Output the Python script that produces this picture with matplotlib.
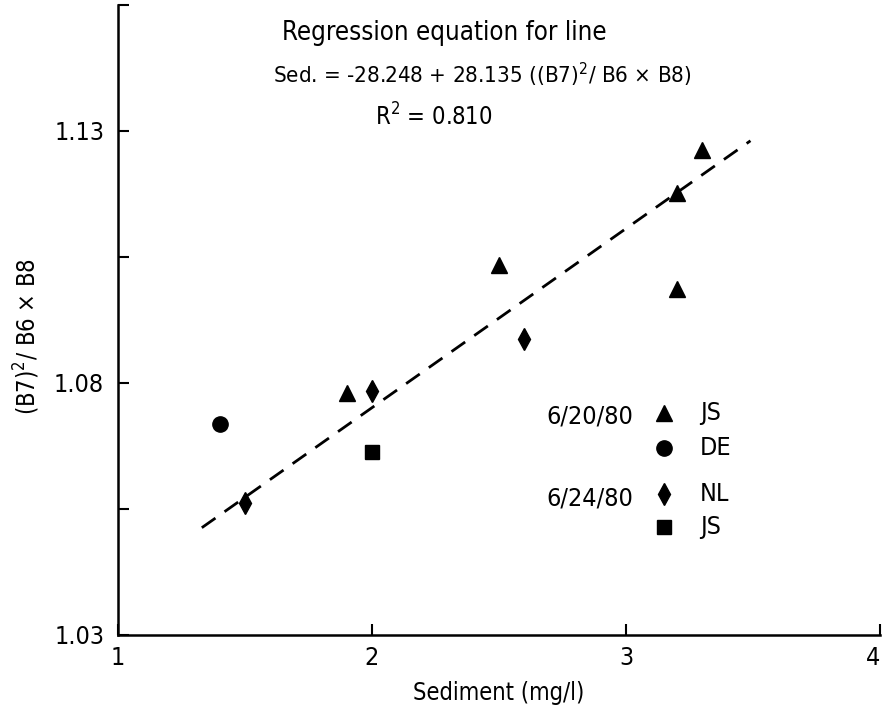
import matplotlib
matplotlib.use("Agg")
import matplotlib.pyplot as plt
import numpy as np

plt.rcParams['font.family'] = ['DejaVu Sans']
plt.rcParams['font.stretch'] = 'condensed'
plt.rcParams['mathtext.fontset'] = 'custom'
plt.rcParams['mathtext.rm'] = 'DejaVu Sans:stretch=condensed'

# Data
js0620_x = [1.9, 2.5, 3.2, 3.3, 3.2]
js0620_y = [1.078, 1.1035, 1.1176, 1.1263, 1.0987]
de0620_x = [1.4]
de0620_y = [1.0718]
nl0624_x = [1.5, 2.0, 2.6]
nl0624_y = [1.0561, 1.0784, 1.0887]
js0624_x = [2.0]
js0624_y = [1.0663]

intercept = -28.248
slope = 28.135
line_x = [1.33, 3.49]

xticks = [1, 2, 3, 4]
xticklabels = ['1', '2', '3', '4']
yticks = [1.03, 1.055, 1.08, 1.105, 1.13, 1.155]
yticklabels = ['1.03', '', '1.08', '', '1.13', '']

fig = plt.figure(figsize=(8.87, 7.11), dpi=100)
ax = fig.add_axes([118/887, (711-635)/711, 762/887, 630/711])

ax.plot(js0620_x, js0620_y, '^', color='black', ms=12, ls='none')
ax.plot(de0620_x, de0620_y, 'o', color='black', ms=11, ls='none')
ax.plot(nl0624_x, nl0624_y, 'd', color='black', ms=11, ls='none')
ax.plot(js0624_x, js0624_y, 's', color='black', ms=10, ls='none')

lx = np.array(line_x)
ly = (lx - intercept) / slope
ax.plot(lx, ly, color='black', lw=2, dashes=(6, 4))

ax.set_xlim(1, 4)
ax.set_ylim(1.03, 1.155)
ax.set_xticks(xticks)
ax.set_xticklabels(xticklabels)
ax.set_yticks(yticks)
ax.set_yticklabels(yticklabels)
ax.tick_params(direction='in', length=8, width=1.5, labelsize=18, colors='black')
ax.tick_params(axis='x', pad=8)
ax.tick_params(axis='y', pad=10)
xl = ax.get_xticklabels()
xl[-1].set_horizontalalignment('right')
for s in ['top', 'right']:
    ax.spines[s].set_visible(False)
for s in ['left', 'bottom']:
    ax.spines[s].set_linewidth(1.8)

ax.set_xlabel('Sediment (mg/l)', fontsize=17, labelpad=8)
ax.set_ylabel(r'(B7)$^2$/ B6 × B8', fontsize=17)
ax.yaxis.set_label_coords((42 - 118) / 762, (635 - 336) / 630)

def px(xp, yp):
    return ((xp - 118) / 762, (635 - yp) / 630)

tk = dict(transform=ax.transAxes, color='black')
ax.text(*px(444, 33), 'Regression equation for line', ha='center', va='center', fontsize=18.5, **tk)
ax.text(*px(482, 75), r'Sed. = -28.248 + 28.135 ((B7)$^2$/ B6 × B8)', ha='center', va='center', fontsize=16, **tk)
ax.text(*px(434, 117), r'R$^2$ = 0.810', ha='center', va='center', fontsize=17, **tk)

lk = dict(transform=ax.transAxes, fontsize=18, color='black', va='center')
ax.text(*px(633, 417), '6/20/80', ha='right', **lk)
ax.text(*px(633, 498), '6/24/80', ha='right', **lk)
ax.plot(*px(664, 413), '^', color='black', ms=11, transform=ax.transAxes)
ax.plot(*px(664, 448), 'o', color='black', ms=11, transform=ax.transAxes)
ax.plot(*px(664, 494), 'd', color='black', ms=11, transform=ax.transAxes)
ax.plot(*px(664, 527), 's', color='black', ms=10, transform=ax.transAxes)
ax.text(*px(700, 413), 'JS', ha='left', **lk)
ax.text(*px(700, 448), 'DE', ha='left', **lk)
ax.text(*px(700, 494), 'NL', ha='left', **lk)
ax.text(*px(700, 527), 'JS', ha='left', **lk)

fig.savefig('out.png', dpi=100)
